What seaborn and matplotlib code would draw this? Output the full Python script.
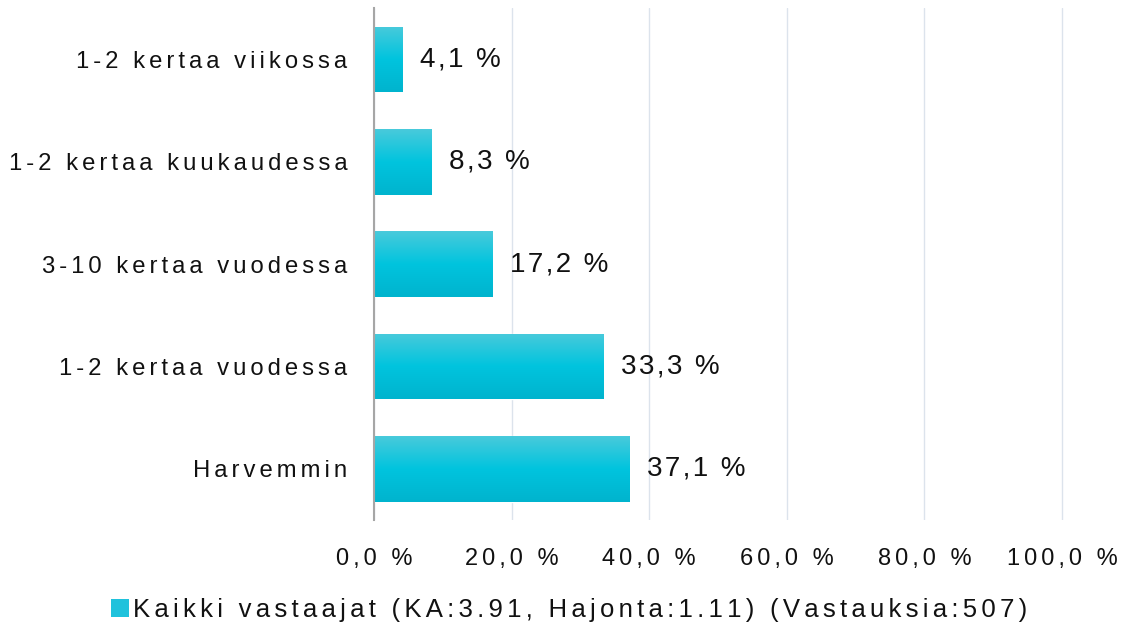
import numpy as np
import pandas as pd
import matplotlib
matplotlib.use("Agg")
import matplotlib.pyplot as plt
import seaborn as sns
from matplotlib.colors import LinearSegmentedColormap
from matplotlib.patches import Patch

categories = ["1-2 kertaa viikossa", "1-2 kertaa kuukaudessa", "3-10 kertaa vuodessa",
              "1-2 kertaa vuodessa", "Harvemmin"]
values = [4.1, 8.3, 17.2, 33.3, 37.1]
xticks = [0, 20, 40, 60, 80, 100]
legend_label = "Kaikki vastaajat (KA:3.91, Hajonta:1.11) (Vastauksia:507)"


def spaced(s, n=2):
    # the original uses wide letter spacing
    return ("\u200a" * n).join(s)


df = pd.DataFrame({"Category": categories, "Value": values})

sns.set_style("white")
plt.rcParams["font.family"] = ["Liberation Sans", "DejaVu Sans"]

fig = plt.figure(figsize=(11.25, 6.29), dpi=100)
ax = fig.add_axes([0.3324, 0.173, 0.6134, 0.814])

sns.barplot(data=df, x="Value", y="Category", orient="h", color="#00C4DE",
            width=0.64, ax=ax, zorder=3)

# vertical gradient on each bar
grad = LinearSegmentedColormap.from_list("g", ["#48CADB", "#00C4DE", "#00B4CE"])
for bar in ax.patches:
    x0, y0 = bar.get_x(), bar.get_y()
    w, h = bar.get_width(), bar.get_height()
    img = ax.imshow(np.linspace(0, 1, 64).reshape(-1, 1), cmap=grad, aspect="auto",
                    extent=[x0, x0 + w, y0 + h, y0], origin="upper", zorder=4)
    img.set_clip_path(bar)
    ax.text(x0 + w + 2.6, y0 + h / 2, spaced(f"{w:.1f} %".replace(".", ","), 1),
            va="center", ha="left", fontsize=20, color="#111111", zorder=5)

ax.set_xlim(0, 100.3)
ax.set_ylim(4.5, -0.5)
ax.set_xticks(xticks)
ax.set_xticklabels([spaced(f"{t:.1f} %".replace(".", ",")) for t in xticks], fontsize=17)
ax.set_yticks(range(len(categories)))
ax.set_yticklabels([spaced(c) for c in categories])
ax.tick_params(axis="y", labelsize=17.2, length=0, pad=19, labelcolor="#111111")
ax.tick_params(axis="x", length=0, pad=20, labelcolor="#111111")
ax.set_xlabel("")
ax.set_ylabel("")
ax.grid(axis="x", color="#DCE3EC", linewidth=1, zorder=0)
for s in ["top", "right", "bottom"]:
    ax.spines[s].set_visible(False)
ax.spines["left"].set_color("#A6A6A6")
ax.spines["left"].set_linewidth(1.5)
ax.spines["left"].set_zorder(6)

handle = Patch(facecolor="#1FC2DC", edgecolor="none")
leg = fig.legend([handle], [spaced(legend_label)], loc="center", bbox_to_anchor=(0.506, 0.031),
                 frameon=False, fontsize=18.5, handlelength=0.7, handleheight=0.7,
                 handletextpad=0.15)
for t in leg.get_texts():
    t.set_color("#111111")

fig.savefig("out.png", dpi=100)
